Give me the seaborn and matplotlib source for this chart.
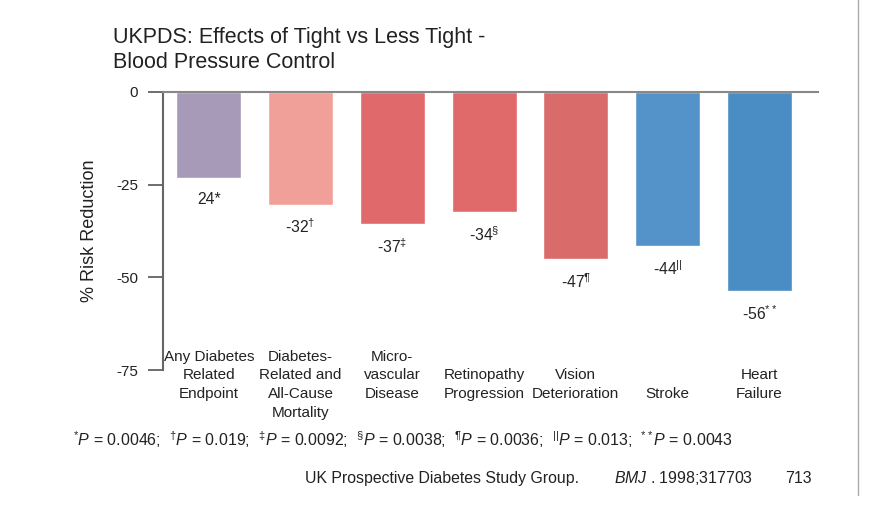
import matplotlib
matplotlib.use("Agg")
import matplotlib.pyplot as plt
import seaborn as sns
import pandas as pd
from matplotlib.lines import Line2D

# Data
categories = ["Any Diabetes\nRelated\nEndpoint",
              "Diabetes-\nRelated and\nAll-Cause\nMortality",
              "Micro-\nvascular\nDisease",
              "\nRetinopathy\nProgression",
              "\nVision\nDeterioration",
              "\n\nStroke",
              "\nHeart\nFailure"]
bar_values = [-23.2, -30.5, -35.7, -32.5, -45.1, -41.6, -53.8]
value_labels = ["24*", r"-32$^{\dagger}$", r"-37$^{\ddagger}$", r"-34$^{\S}$",
                r"-47$^{\P}$", r"-44$^{||}$", r"-56$^{**}$"]
bar_colors = ["#a799b8", "#f0a098", "#e0696c", "#e06a6a", "#da6b6b", "#5393c9", "#4a8cc4"]
yticks = [0, -25, -50, -75]

df = pd.DataFrame({"cat": categories, "val": bar_values})

sns.set_style("white")
plt.rcParams["font.family"] = ["Liberation Sans", "DejaVu Sans"]
plt.rcParams["mathtext.fontset"] = "custom"
plt.rcParams["mathtext.rm"] = "Liberation Sans"
plt.rcParams["mathtext.it"] = "Liberation Sans:italic"

fig = plt.figure(figsize=(8.7, 5.05), dpi=100)
ax = fig.add_axes([163 / 870, 1 - 370 / 505, (818 - 163) / 870, (370 - 92) / 505])

sns.barplot(data=df, x="cat", y="val", hue="cat", palette=bar_colors,
            legend=False, width=0.71, ax=ax, saturation=1)

ax.set_ylim(-75, 0)
ax.set_xlim(-0.5, 6.64)
ax.set_yticks(yticks)
ax.set_yticklabels([str(t) for t in yticks], fontsize=11, color="#222222")
ax.tick_params(axis="y", direction="out", length=11, width=1.2, color="#555555", pad=7, left=True)
ax.tick_params(axis="x", length=0, pad=-14.5, labelsize=11, labelcolor="#222222")
for lbl in ax.get_xticklabels():
    lbl.set_linespacing(1.42)

ax.set_xlabel("")
ax.set_ylabel("% Risk Reduction", fontsize=13, color="#222222", labelpad=13)

for side in ["bottom", "right"]:
    ax.spines[side].set_visible(False)
ax.spines["left"].set_color("#666666")
ax.spines["left"].set_linewidth(1.5)
ax.spines["top"].set_color("#888888")
ax.spines["top"].set_linewidth(1.5)

# value labels below each bar
for i, (v, lab) in enumerate(zip(bar_values, value_labels)):
    ax.annotate(lab, (i, v), xytext=(0, -22), textcoords="offset pixels",
                ha="center", va="center", fontsize=11.3, color="#222222")

fig.text(113 / 870, 1 - 50 / 505, "UKPDS: Effects of Tight vs Less Tight -\nBlood Pressure Control",
         fontsize=15.5, color="#222222", va="center", ha="left", linespacing=1.2)

footnote = (r"$^{*}\mathit{P}$ = 0.0046;  $^{\dagger}\mathit{P}$ = 0.019;  "
            r"$^{\ddagger}\mathit{P}$ = 0.0092;  $^{\S}\mathit{P}$ = 0.0038;  "
            r"$^{\P}\mathit{P}$ = 0.0036;  $^{||}\mathit{P}$ = 0.013;  $^{**}\mathit{P}$ = 0.0043")
fig.text(73 / 870, 1 - 440 / 505, footnote, fontsize=11.5, color="#222222", va="center")

# citation line, all on one baseline
cite_y = 1 - 483 / 505
fig.text(305 / 870, cite_y, "UK Prospective Diabetes Study Group.", fontsize=11.4,
         color="#222222", va="baseline")
fig.text(614 / 870, cite_y, r"$\mathit{BMJ}$ . 1998;317703", fontsize=11.4,
         color="#222222", va="baseline")
fig.text(785 / 870, cite_y, "713", fontsize=11.4, color="#222222", va="baseline")

# page frame
fig.add_artist(Line2D([858 / 870, 858 / 870], [0.02, 1.0], transform=fig.transFigure,
                      color="#aaaaaa", linewidth=1))

fig.savefig("out.png", dpi=100)
